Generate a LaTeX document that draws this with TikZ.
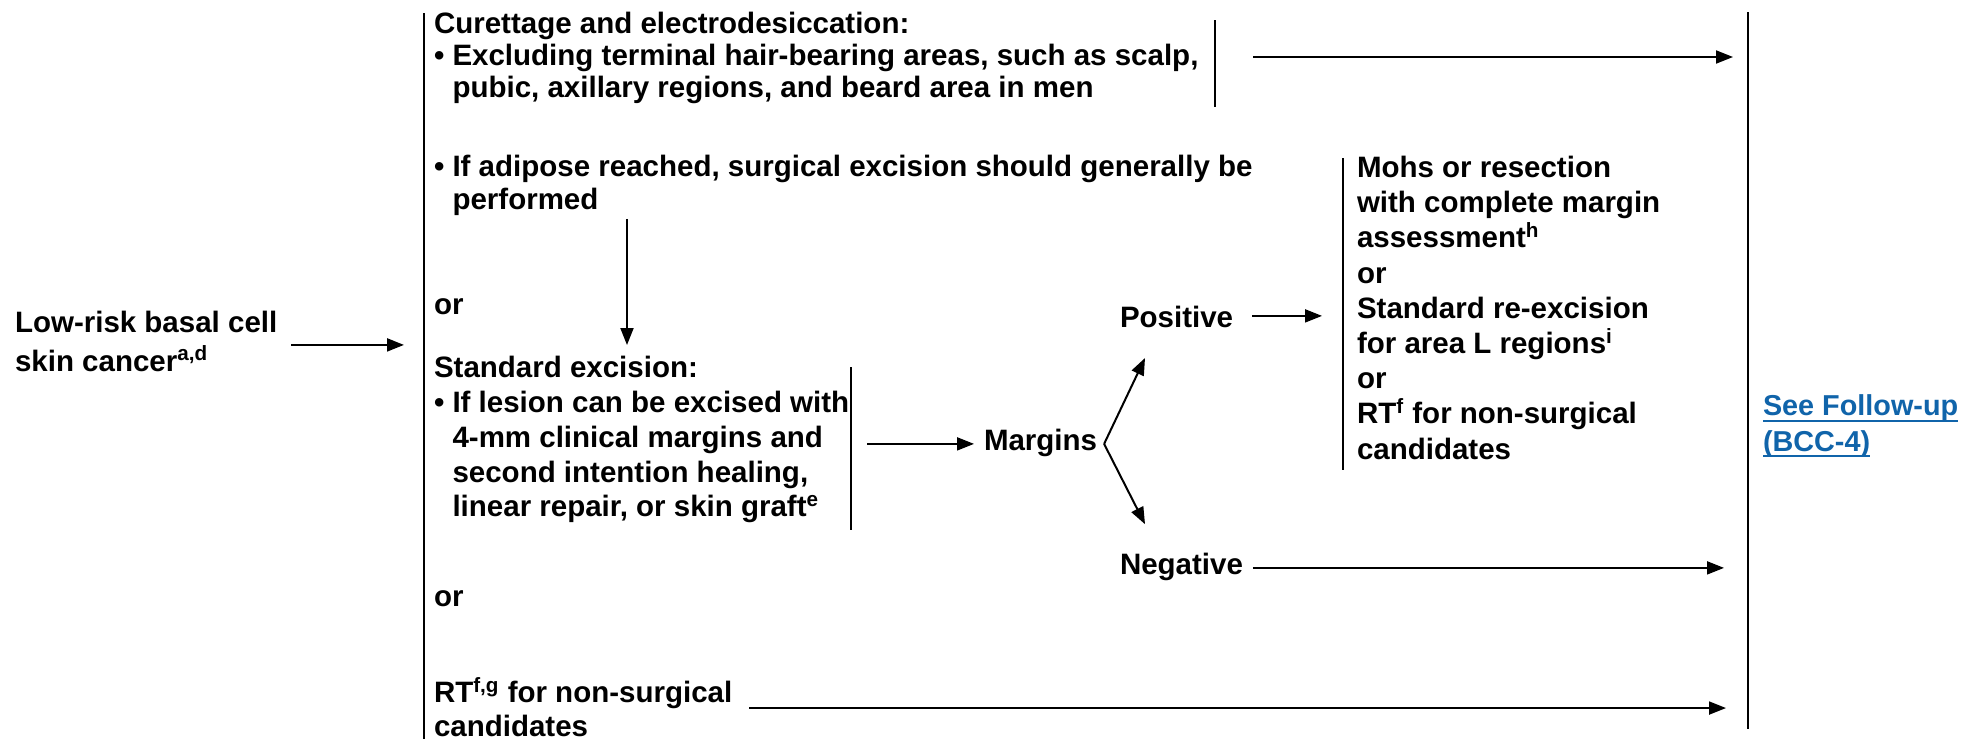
\documentclass[tikz,border=0pt]{standalone}
\usepackage{fontspec}
\setmainfont{Liberation Sans}
\usetikzlibrary{arrows.meta}
\definecolor{linkblue}{RGB}{16,100,170}
\newcommand\linkul[1]{\setbox0\hbox{#1}\rlap{\rule[-3pt]{\wd0}{1pt}}\box0}
\begin{document}
\begin{tikzpicture}[x=0.5pt,y=-0.5pt,
  txt/.style={anchor=north west, inner sep=0pt, outer sep=0pt, align=left,
    font=\fontsize{14.75}{17.7}\selectfont\bfseries},
  skip/.style={font=\fontsize{14.75}{#1}\selectfont\bfseries},
  arr/.style={line width=1pt, -{Triangle[length=8.5pt,width=6.5pt]}},
  bar/.style={line width=1.1pt}]
\useasboundingbox (0,0) rectangle (1965,739);

% bars
\coordinate (mainT) at (424,13);  \coordinate (mainB) at (424,739);
\coordinate (rbT) at (1748,12);   \coordinate (rbB) at (1748,729);
\coordinate (cbT) at (1215,20);   \coordinate (cbB) at (1215,107);
\coordinate (sbT) at (851,367);   \coordinate (sbB) at (851,530);
\coordinate (mbT) at (1343,158);  \coordinate (mbB) at (1343,470);
\coordinate (dx) at (627,0);
\draw[bar] (mainT) -- (mainB);
\draw[bar] (rbT) -- (rbB);
\draw[bar] (cbT) -- (cbB);
\draw[bar] (sbT) -- (sbB);
\draw[bar] (mbT) -- (mbB);

% nodes
\node[txt] (low) at (15,308.2) {\strut Low-risk basal cell\\skin cancer\textsuperscript{a,d}\strut};
\node[txt, skip=16pt] (curet) at (434,11.1) {\strut Curettage and electrodesiccation:\\
  • Excluding terminal hair-bearing areas, such as scalp,\\
  \hphantom{• }pubic, axillary regions, and beard area in men\strut};
\node[txt, skip=16.5pt] (adip) at (434,152.9) {\strut • If adipose reached, surgical excision should generally be\\
  \hphantom{• }performed\strut};
\node[txt] (or1) at (434,290.2) {\strut or\strut};
\node[txt, skip=17.35pt] (stdex) at (434,353.7) {\strut Standard excision:\\
  • If lesion can be excised with\\
  \hphantom{• }4-mm clinical margins and\\
  \hphantom{• }second intention healing,\\
  \hphantom{• }linear repair, or skin graft\textsuperscript{e}\strut};
\node[txt] (or2) at (434,582.2) {\strut or\strut};
\node[txt, skip=17pt] (rt) at (434,677.2) {\strut RT\textsuperscript{f,g} for non-surgical\\candidates};
\node[txt] (margins) at (984,426.2) {\strut Margins\strut};
\node[txt] (pos) at (1120,303.2) {\strut Positive\strut};
\node[txt] (neg) at (1120,550.2) {\strut Negative\strut};
\node[txt, skip=17.6pt] (mohs) at (1357,152.9) {\strut Mohs or resection\\
  with complete margin\\
  assessment\textsuperscript{h}\\
  or\\
  Standard re-excision\\
  for area L regions\textsuperscript{i}\\
  or\\
  RT\textsuperscript{f} for non-surgical\\
  candidates\strut};
\node[txt, text=linkblue, font=\fontsize{14.4}{17.7}\selectfont\bfseries] (follow) at (1763,391.2)
  {\strut\linkul{See Follow-up}\\\linkul{(BCC-4)}\strut};

% connectors
\draw[arr] ([xshift=7pt]low.east) -- ([xshift=-10pt]low.east -| mainT);
\draw[arr] ([xshift=19pt,yshift=1.05pt]curet.east -| cbT) -- ([xshift=-7.5pt,yshift=1.05pt]curet.east -| rbT);
\draw[arr] (adip.south -| dx) -- ([yshift=4.35pt]stdex.north -| dx);
\draw[arr] ([xshift=8pt]margins.west -| sbT) -- ([xshift=-5pt]margins.west);
\draw[arr] ([xshift=3.5pt]margins.east) -- ([xshift=12.5pt,yshift=-9.7pt]pos.south west);
\draw[arr] ([xshift=3.5pt]margins.east) -- ([xshift=12.5pt,yshift=13pt]neg.north west);
\draw[arr] ([xshift=9.5pt,yshift=2.5pt]pos.east) -- ([xshift=-10.5pt,yshift=2.5pt]pos.east -| mbT);
\draw[arr] ([xshift=5pt]neg.east) -- ([xshift=-12pt]neg.east -| rbT);
\draw[arr] ([xshift=8.5pt,yshift=-0.5pt]rt.east) -- ([xshift=-11pt,yshift=-0.5pt]rt.east -| rbT);
\end{tikzpicture}
\end{document}
